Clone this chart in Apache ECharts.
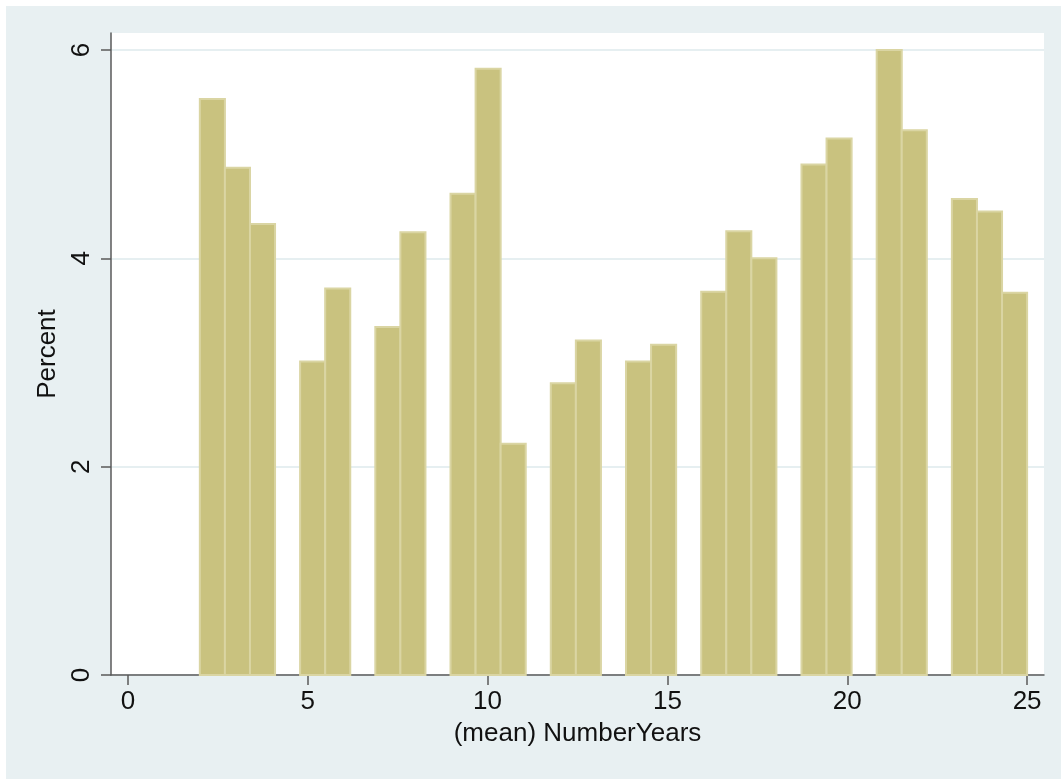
<!DOCTYPE html>
<html>
<head>
<meta charset="utf-8">
<script src="https://cdn.jsdelivr.net/npm/echarts@6/dist/echarts.min.js"></script>
<style>
  html, body { margin: 0; padding: 0; background: #ffffff; }
  #chart { position: absolute; left: 6px; top: 6px; width: 1055px; height: 773px; }
</style>
</head>
<body>
<div id="chart"></div>
<script>
// Histogram definition: 33 bins from 2 to 25
const binStart = 2;
const binEnd = 25;
const binCount = 33;
// Percent for each bin
const percents = [
  5.53, 4.87, 4.33, 0, 3.01, 3.71, 0, 3.34, 4.25, 0,
  4.62, 5.82, 2.22, 0, 2.80, 3.21, 0, 3.01, 3.17, 0,
  3.68, 4.26, 4.00, 0, 4.90, 5.15, 0, 6.00, 5.23, 0,
  4.57, 4.45, 3.67
];
const xTicks = [0, 5, 10, 15, 20, 25];
const yTicks = [0, 2, 4, 6];
const xTitle = '(mean) NumberYears';
const yTitle = 'Percent';

const binWidth = (binEnd - binStart) / binCount;
const histData = [];
percents.forEach((p, i) => {
  if (p > 0) histData.push([binStart + i * binWidth, binStart + (i + 1) * binWidth, p]);
});

const FONT = 'Liberation Sans';
const axisColor = '#5a5a5a';

const chart = echarts.init(document.getElementById('chart'), null, { renderer: 'canvas' });
chart.setOption({
  backgroundColor: '#e8f0f2',
  animation: false,
  grid: {
    left: 105, right: 17, top: 27, bottom: 104,
    show: true, backgroundColor: '#ffffff', borderWidth: 0
  },
  xAxis: {
    type: 'value',
    min: -0.47, max: 25.47,
    name: xTitle,
    nameLocation: 'middle',
    nameGap: 46,
    nameTextStyle: { fontFamily: FONT, fontSize: 26, color: '#111' },
    axisLine: { show: true, onZero: false, lineStyle: { color: axisColor, width: 1.5 } },
    axisTick: { show: true, length: 10, customValues: xTicks, lineStyle: { color: axisColor, width: 1.5 } },
    axisLabel: { customValues: xTicks, margin: 14, fontFamily: FONT, fontSize: 26, color: '#111' },
    splitLine: { show: false }
  },
  yAxis: {
    type: 'value',
    min: 0, max: 6.163,
    name: yTitle,
    nameLocation: 'middle',
    nameGap: 46,
    nameRotate: 90,
    nameTextStyle: { fontFamily: FONT, fontSize: 26, color: '#111' },
    axisLine: { show: true, onZero: false, lineStyle: { color: axisColor, width: 1.5 } },
    axisTick: { show: true, length: 10, customValues: yTicks, lineStyle: { color: axisColor, width: 1.5 } },
    axisLabel: { customValues: yTicks, rotate: 90, margin: 16, fontFamily: FONT, fontSize: 26, color: '#111' },
    splitLine: { show: true, lineStyle: { color: '#e6eff1', width: 2 } }
  },
  series: [{
    type: 'custom',
    data: histData,
    encode: { x: [0, 1], y: 2 },
    renderItem: function (params, api) {
      const p0 = api.coord([api.value(0), 0]);
      const p1 = api.coord([api.value(1), api.value(2)]);
      return {
        type: 'rect',
        shape: { x: p0[0], y: p1[1], width: p1[0] - p0[0], height: p0[1] - p1[1] },
        style: { fill: '#c9c27f', stroke: '#dad5a3', lineWidth: 2 }
      };
    }
  }]
});
</script>
</body>
</html>
